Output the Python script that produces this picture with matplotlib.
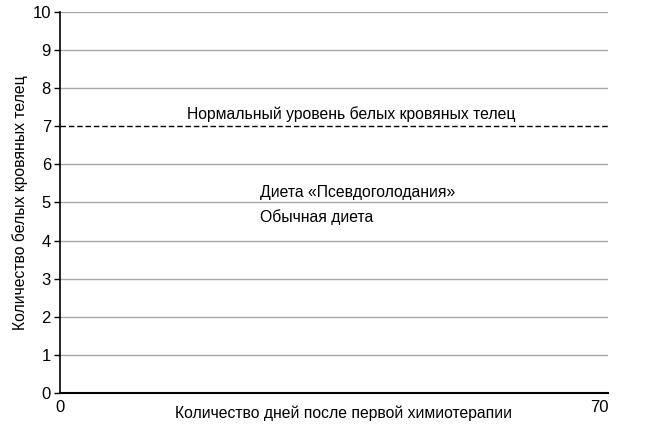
import matplotlib
matplotlib.use("Agg")
import matplotlib.pyplot as plt

# data
y_ticks = list(range(0, 11))
x_ticks = [0, 70]
normal_level = 7
normal_label = "Нормальный уровень белых кровяных телец"
series_labels = ["Диета «Псевдоголодания»", "Обычная диета"]
series_label_pos = [(25.5, 5.26), (25.5, 4.62)]
normal_label_pos = (37.2, 7.32)

plt.rcParams['font.family'] = ['Liberation Sans', 'DejaVu Sans']
plt.rcParams['font.size'] = 11.3

fig = plt.figure(figsize=(6.45, 4.33), dpi=100)
ax = fig.add_axes([0.093, 0.0924, 0.85, 0.88])

ax.set_xlim(0, 70)
ax.set_ylim(0, 10)
ax.set_yticks(y_ticks)
ax.set_xticks(x_ticks)
ax.set_xticklabels([str(t) for t in x_ticks])
for lbl, ha in zip(ax.get_xticklabels(), ["center", "right"]):
    lbl.set_horizontalalignment(ha)
ax.tick_params(axis="x", length=0, pad=5, labelsize=12)
ax.tick_params(axis="y", length=4.5, width=1, pad=2, labelsize=12)

for y in y_ticks[1:]:
    if y == normal_level:
        continue
    ax.axhline(y, color="#a8a8a8", lw=1, zorder=1)
ax.axhline(normal_level, color="black", lw=1, ls=(0, (4, 2)), zorder=2)

for s in ["top", "right"]:
    ax.spines[s].set_visible(False)
ax.spines["left"].set_linewidth(1.2)
ax.spines["bottom"].set_linewidth(1.5)

ax.text(*normal_label_pos, normal_label, ha="center", va="center")
for (x, y), s in zip(series_label_pos, series_labels):
    ax.text(x, y, s, ha="left", va="center")

ax.set_xlabel("Количество дней после первой химиотерапии")
ax.xaxis.set_label_coords(0.518, -0.053)
ax.xaxis.label.set_va("center")
ax.set_ylabel("Количество белых кровяных телец", labelpad=3)

fig.savefig("out.png", dpi=100)
